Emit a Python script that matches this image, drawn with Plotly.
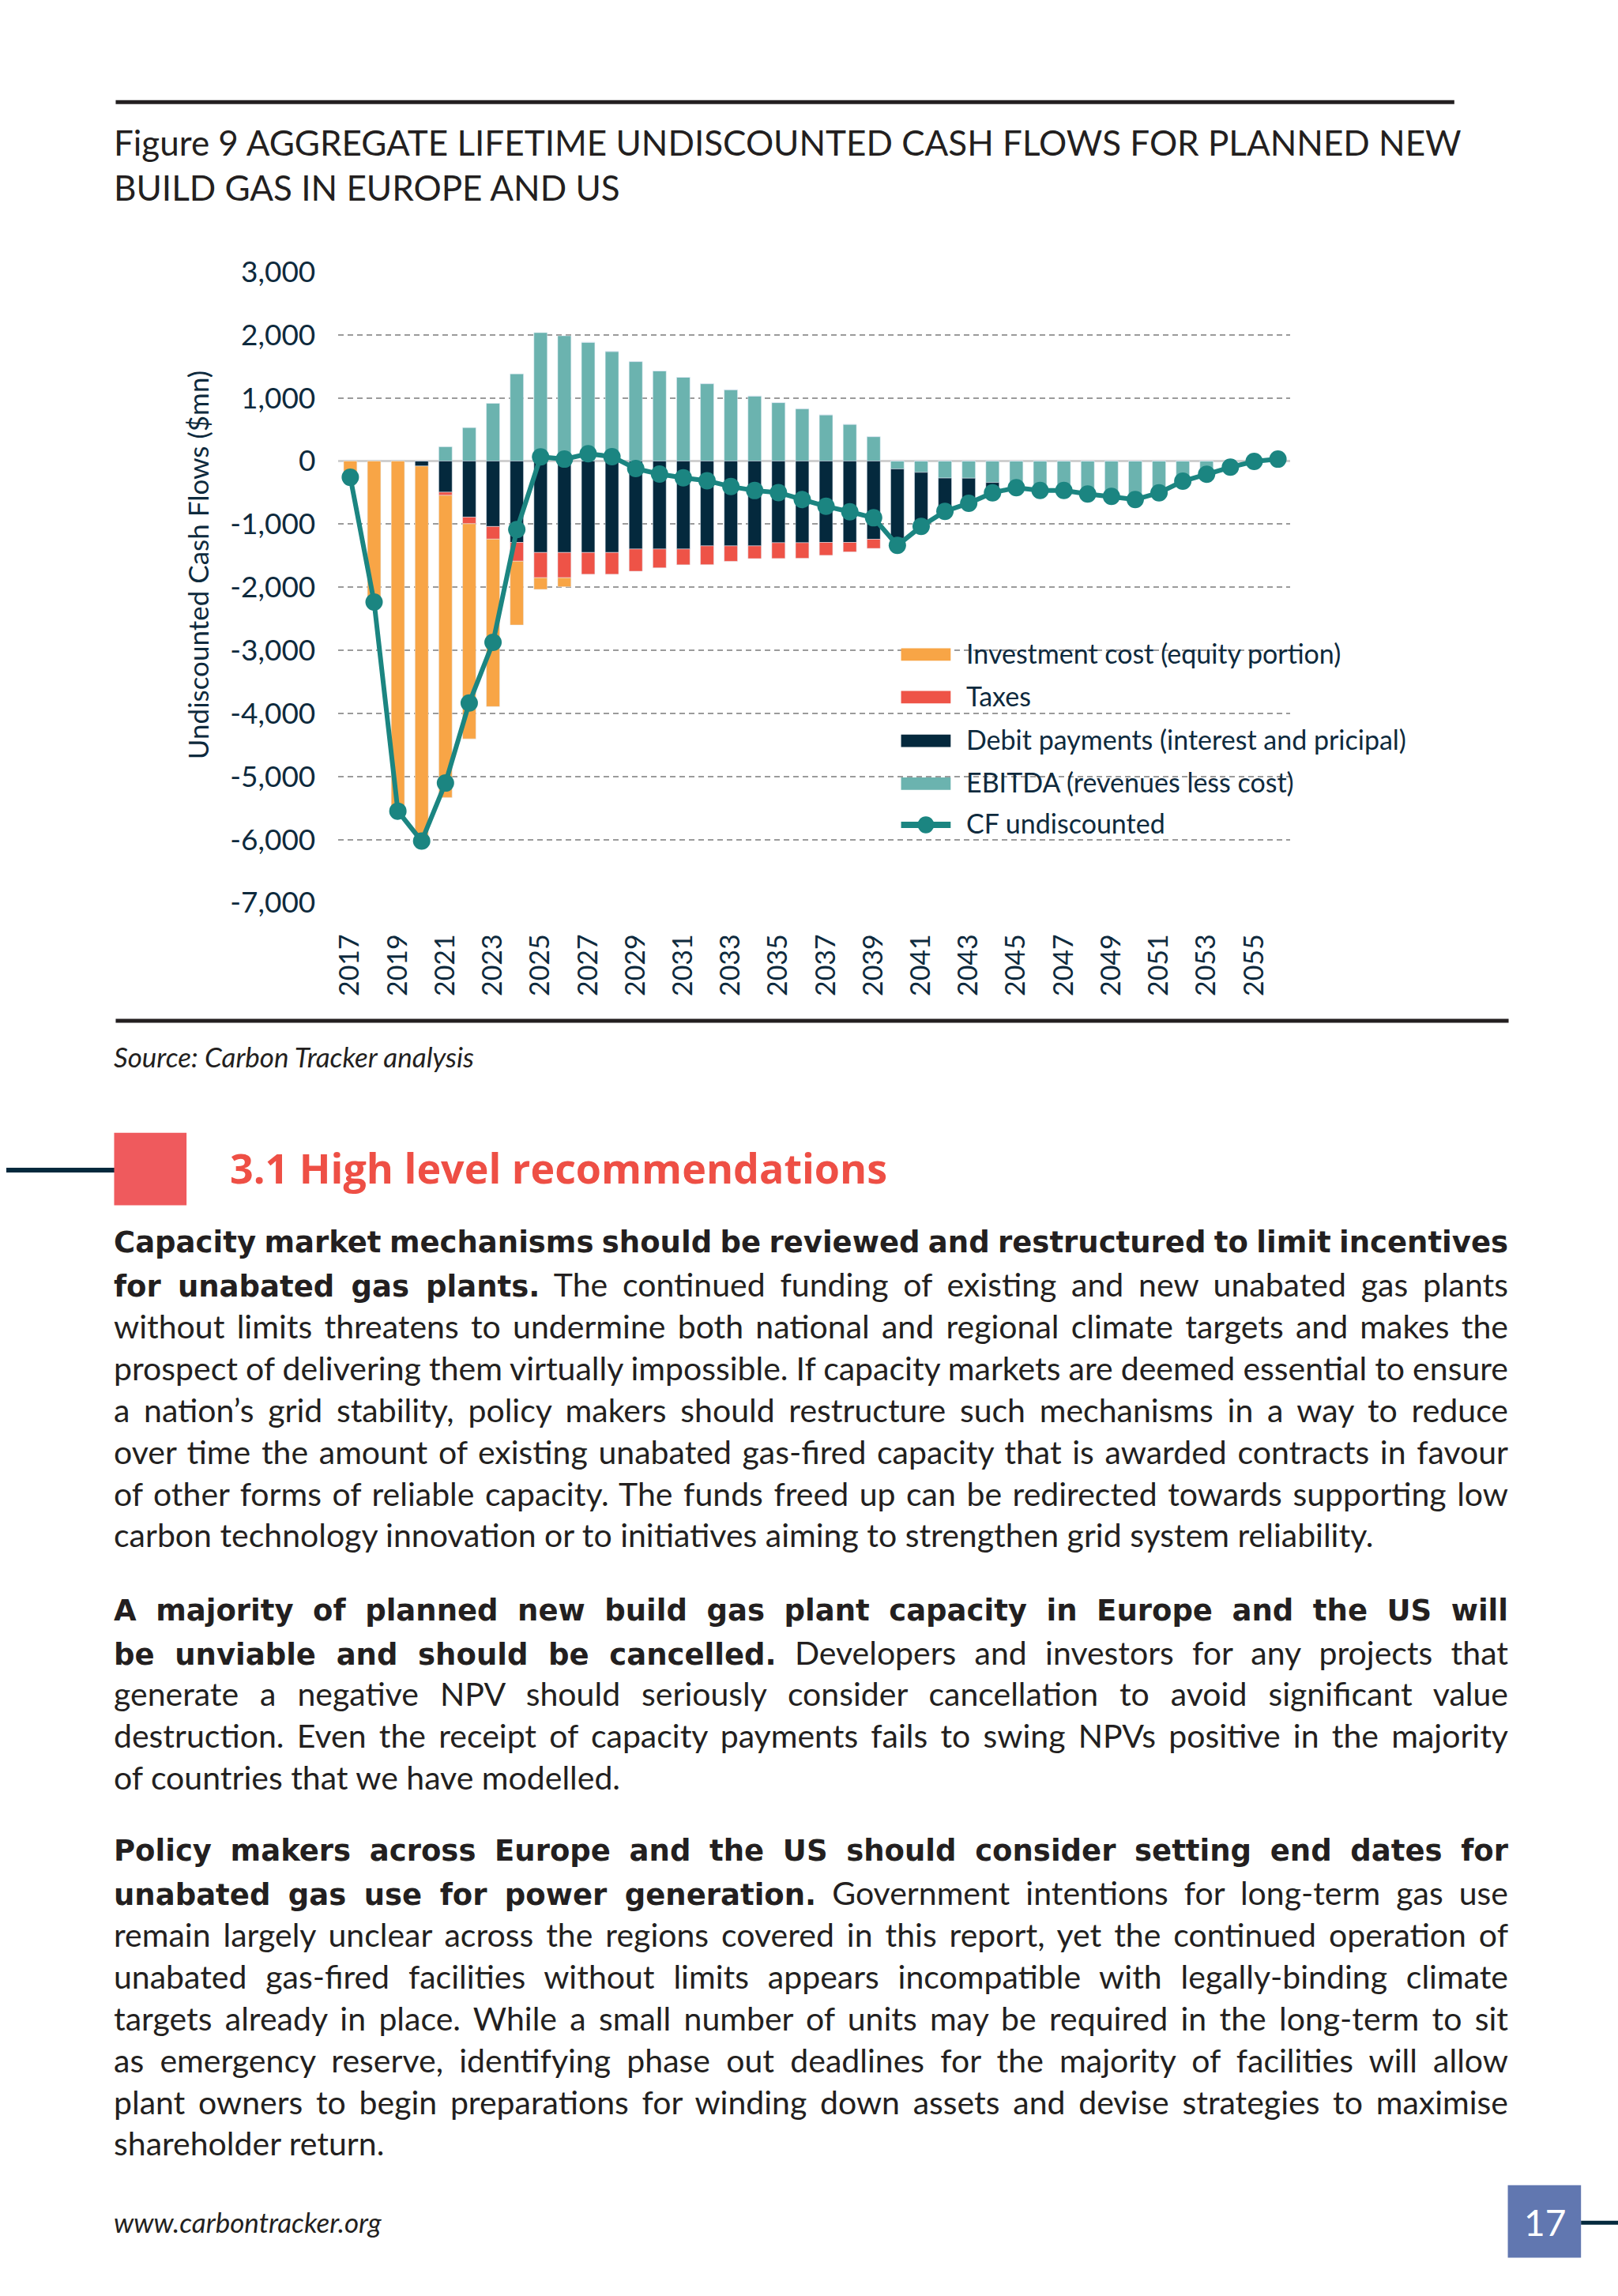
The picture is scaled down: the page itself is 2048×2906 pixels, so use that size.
import plotly.graph_objects as go

# ---------------- data ----------------
years = [2017, 2018, 2019, 2020, 2021, 2022, 2023, 2024, 2025, 2026,
         2027, 2028, 2029, 2030, 2031, 2032, 2033, 2034, 2035, 2036,
         2037, 2038, 2039, 2040, 2041, 2042, 2043, 2044, 2045, 2046,
         2047, 2048, 2049, 2050, 2051, 2052, 2053, 2054, 2055, 2056]

investment = [-190, -2170, -5500, -5900, -4790, -3410, -2655, -1012, -185, -144,
              0, 0, 0, 0, 0, 0, 0, 0, 0, 0,
              0, 0, 0, 0, 0, 0, 0, 0, 0, 0,
              0, 0, 0, 0, 0, 0, 0, 0, 0, 0]

taxes = [0, 0, 0, 0, -50, -105, -200, -297, -400, -400,
         -345, -345, -352, -298, -250, -298, -245, -202, -250, -247,
         -205, -150, -145, 0, 0, 0, 0, 0, 0, 0,
         0, 0, 0, 0, 0, 0, 0, 0, 0, 0]

debt = [0, 0, 0, -80, -494, -889, -1038, -1291, -1450, -1450,
        -1450, -1450, -1395, -1395, -1395, -1345, -1345, -1345, -1295, -1295,
        -1290, -1290, -1240, -1100, -820, -480, -360, -150, 0, 0,
        0, 0, 0, 0, 0, 0, 0, 0, 0, 0]

ebitda = [0, 0, 0, 0, 226, 529, 914, 1381, 2035, 1985,
          1883, 1737, 1577, 1428, 1328, 1226, 1130, 1030, 926, 830,
          732, 582, 387, -125, -180, -270, -272, -340, -400, -440,
          -440, -490, -530, -570, -470, -285, -170, -70, -10, 25]

cf = [-258, -2235, -5550, -6025, -5105, -3835, -2875, -1087, 65, 30,
      115, 70, -120, -206, -265, -312, -405, -468, -500, -610,
      -718, -805, -900, -1338, -1037, -797, -669, -503, -422, -466,
      -466, -523, -560, -611, -503, -320, -210, -98, -6, 30]

x_tick_vals = [2017, 2019, 2021, 2023, 2025, 2027, 2029, 2031, 2033, 2035,
               2037, 2039, 2041, 2043, 2045, 2047, 2049, 2051, 2053, 2055]
x_tick_text = ["2017", "2019", "2021", "2023", "2025", "2027", "2029", "2031", "2033", "2035",
               "2037", "2039", "2041", "2043", "2045", "2047", "2049", "2051", "2053", "2055"]
y_tick_vals = [3000, 2000, 1000, 0, -1000, -2000, -3000, -4000, -5000, -6000, -7000]
y_tick_text = ["3,000", "2,000", "1,000", "0", "-1,000", "-2,000", "-3,000",
               "-4,000", "-5,000", "-6,000", "-7,000"]

legend_names = ["Investment cost (equity portion)", "Taxes",
                "Debit payments (interest and pricipal)", "EBITDA (revenues less cost)",
                "CF undiscounted"]

title_lines = ["Figure 9 AGGREGATE LIFETIME UNDISCOUNTED CASH FLOWS FOR PLANNED NEW",
               "BUILD GAS IN EUROPE AND US"]

# each body line: (bold part, regular part)
body_bold = [
    "Capacity market mechanisms should be reviewed and restructured to limit incentives",
    "for unabated gas plants.", "", "", "", "", "", "",
    "A majority of planned new build gas plant capacity in Europe and the US will",
    "be unviable and should be cancelled.", "", "", "",
    "Policy makers across Europe and the US should consider setting end dates for",
    "unabated gas use for power generation.", "", "", "", "", "", "",
]
body_regular = [
    "",
    " The continued funding of existing and new unabated gas plants",
    "without limits threatens to undermine both national and regional climate targets and makes the",
    "prospect of delivering them virtually impossible. If capacity markets are deemed essential to ensure",
    "a nation\u2019s grid stability, policy makers should restructure such mechanisms in a way to reduce",
    "over time the amount of existing unabated gas-fired capacity that is awarded contracts in favour",
    "of other forms of reliable capacity. The funds freed up can be redirected towards supporting low",
    "carbon technology innovation or to initiatives aiming to strengthen grid system reliability.",
    "",
    " Developers and investors for any projects that",
    "generate a negative NPV should seriously consider cancellation to avoid significant value",
    "destruction. Even the receipt of capacity payments fails to swing NPVs positive in the majority",
    "of countries that we have modelled.",
    "",
    " Government intentions for long-term gas use",
    "remain largely unclear across the regions covered in this report, yet the continued operation of",
    "unabated gas-fired facilities without limits appears incompatible with legally-binding climate",
    "targets already in place. While a small number of units may be required in the long-term to sit",
    "as emergency reserve, identifying phase out deadlines for the majority of facilities will allow",
    "plant owners to begin preparations for winding down assets and devise strategies to maximise",
    "shareholder return.",
]
# last line of each paragraph is not justified
body_last_line = [False, False, False, False, False, False, False, True,
                  False, False, False, False, True,
                  False, False, False, False, False, False, False, True]
body_y = [1573, 1627, 1681, 1734, 1788, 1842, 1896, 1949,
          2046, 2100, 2153, 2207, 2261,
          2355, 2409, 2463, 2516, 2570, 2624, 2678, 2731]

# ---------------- styles ----------------
W, H = 2048, 2906
FONT = "Lato, 'Open Sans', sans-serif"
BOLD_STYLE = "font-family:DejaVu Sans;font-weight:bold;font-size:37px"
C_ORANGE = "#F8A546"
C_RED = "#EE5347"
C_NAVY = "#04293D"
C_TEAL = "#6BB3AF"
C_LINE = "#1B8581"
C_TEXT = "#0E2A3D"
C_DARK = "#231F20"
TEXT_RIGHT = 1909  # right edge of the justified text column (px)


def px(x):
    return x / W


def py(y):
    return 1 - y / H


fig = go.Figure()
# stacking order: first trace sits nearest to zero
fig.add_trace(go.Bar(x=years, y=ebitda, name=legend_names[3], marker_color=C_TEAL,
                     width=0.56, showlegend=False))
fig.add_trace(go.Bar(x=years, y=debt, name=legend_names[2], marker_color=C_NAVY,
                     width=0.56, showlegend=False))
fig.add_trace(go.Bar(x=years, y=taxes, name=legend_names[1], marker_color=C_RED,
                     width=0.56, showlegend=False))
fig.add_trace(go.Bar(x=years, y=investment, name=legend_names[0], marker_color=C_ORANGE,
                     width=0.56, showlegend=False))
fig.add_trace(go.Scatter(x=years, y=cf, name=legend_names[4], mode="lines+markers",
                         line=dict(color=C_LINE, width=6),
                         marker=dict(color=C_LINE, size=22), showlegend=False))

shapes = []
annotations = []

# white background behind legend (hides gridlines there)
shapes.append(dict(type="rect", xref="paper", yref="paper", layer="between",
                   x0=px(1108), x1=px(1645), y0=py(1070), y1=py(785),
                   fillcolor="white", line=dict(width=0)))

# legend (drawn manually to match the wide swatches)
leg_y = [817, 872, 928, 983, 1036]
leg_cols = [C_ORANGE, C_RED, C_NAVY, C_TEAL]
for i in range(4):
    shapes.append(dict(type="rect", xref="paper", yref="paper", layer="above",
                       x0=px(1137), x1=px(1200), y0=py(leg_y[i] + 8), y1=py(leg_y[i] - 8),
                       fillcolor=leg_cols[i], line=dict(width=0)))
shapes.append(dict(type="line", xref="paper", yref="paper", layer="above",
                   x0=px(1137), x1=px(1200), y0=py(leg_y[4]), y1=py(leg_y[4]),
                   line=dict(color=C_LINE, width=8)))
shapes.append(dict(type="circle", xref="paper", yref="paper", layer="above",
                   x0=px(1158), x1=px(1179), y0=py(leg_y[4] + 11), y1=py(leg_y[4] - 11),
                   fillcolor=C_LINE, line=dict(width=0)))
for i in range(5):
    annotations.append(dict(text=legend_names[i], xref="paper", yref="paper",
                            x=px(1218), y=py(leg_y[i] - 2), xanchor="left", yanchor="middle",
                            showarrow=False, font=dict(family=FONT, size=34, color=C_TEXT)))

# y axis title
annotations.append(dict(text="Undiscounted Cash Flows ($mn)", xref="paper", yref="paper",
                        x=px(243), y=py(702), xanchor="center", yanchor="middle", textangle=-90,
                        showarrow=False, font=dict(family=FONT, size=35, color=C_TEXT)))

# rules
shapes.append(dict(type="line", xref="paper", yref="paper", x0=px(139), x1=px(1840),
                   y0=py(107), y1=py(107), line=dict(color=C_DARK, width=5)))
shapes.append(dict(type="line", xref="paper", yref="paper", x0=px(139), x1=px(1909),
                   y0=py(1288), y1=py(1288), line=dict(color=C_DARK, width=5)))

# title
for t, yy in zip(title_lines, [158, 216]):
    annotations.append(dict(text=t, xref="paper", yref="paper", x=px(135), y=py(yy),
                            xanchor="left", yanchor="middle", showarrow=False,
                            font=dict(family=FONT, size=44, color=C_DARK)))

# source
annotations.append(dict(text="<i>Source: Carbon Tracker analysis</i>", xref="paper", yref="paper",
                        x=px(135), y=py(1334), xanchor="left", yanchor="middle", showarrow=False,
                        font=dict(family=FONT, size=35, color=C_DARK)))

# section heading
shapes.append(dict(type="line", xref="paper", yref="paper", x0=0, x1=px(138),
                   y0=py(1480), y1=py(1480), line=dict(color=C_NAVY, width=6)))
shapes.append(dict(type="rect", xref="paper", yref="paper", x0=px(137), x1=px(229),
                   y0=py(1525), y1=py(1432), fillcolor="#EF5A5D", line=dict(width=0)))
annotations.append(dict(text="<b>3.1 High level recommendations</b>", xref="paper", yref="paper",
                        x=px(282), y=py(1476), xanchor="left", yanchor="middle", showarrow=False,
                        font=dict(family="'Open Sans', Lato, sans-serif", size=52,
                                  color="#EE4F45")))

# body text
justify_idx = []
for b, r, last, yy in zip(body_bold, body_regular, body_last_line, body_y):
    txt = ""
    if b:
        txt += '<span style="' + BOLD_STYLE + '">' + b + "</span>"
    txt += r
    if not last:
        justify_idx.append(len(annotations))
    annotations.append(dict(text=txt, xref="paper", yref="paper", x=px(135), y=py(yy),
                            xanchor="left", yanchor="middle", align="left", showarrow=False,
                            font=dict(family=FONT, size=41, color=C_DARK)))

# footer
annotations.append(dict(text="<i>www.carbontracker.org</i>", xref="paper", yref="paper",
                        x=px(135), y=py(2832), xanchor="left", yanchor="middle", showarrow=False,
                        font=dict(family=FONT, size=35, color=C_DARK)))
shapes.append(dict(type="rect", xref="paper", yref="paper", x0=px(1908), x1=px(2001),
                   y0=py(2878), y1=py(2785), fillcolor="#6177B0", line=dict(width=0)))
shapes.append(dict(type="line", xref="paper", yref="paper", x0=px(2001), x1=1,
                   y0=py(2833), y1=py(2833), line=dict(color=C_NAVY, width=5)))
annotations.append(dict(text="17", xref="paper", yref="paper", x=px(1955), y=py(2832),
                        xanchor="center", yanchor="middle", showarrow=False,
                        font=dict(family=FONT, size=46, color="white")))

fig.update_layout(
    width=W, height=H, autosize=False,
    margin=dict(l=0, r=0, t=0, b=0, pad=0),
    paper_bgcolor="white", plot_bgcolor="white",
    barmode="relative", bargap=0.44,
    font=dict(family=FONT, color=C_TEXT),
    shapes=shapes, annotations=annotations,
    xaxis=dict(domain=[px(422), px(1631)], range=[2016.5, 2056.5],
               tickmode="array", tickvals=x_tick_vals, ticktext=x_tick_text,
               tickangle=-90, showgrid=False, zeroline=False, showline=False,
               ticks="", ticklabelstandoff=32,
               tickfont=dict(family=FONT, size=34, color=C_TEXT)),
    yaxis=dict(domain=[py(1136), py(325)], range=[-7000, 3000],
               tickmode="array", tickvals=y_tick_vals, ticktext=y_tick_text,
               showgrid=True, gridcolor="#9B9B9B", gridwidth=2, griddash="7px,5px",
               zeroline=True, zerolinecolor="#CFCFCF", zerolinewidth=3,
               showline=False, ticks="", ticklabelstandoff=28,
               tickfont=dict(family=FONT, size=37, color=C_TEXT)),
)

# justify the body paragraphs (word spacing) after the figure is drawn
justify_js = (
    "document.body.style.margin='0';"
    "try {"
    " var gd = document.getElementById('{plot_id}');"
    " var idx = " + str(justify_idx) + ";"
    " idx.forEach(function(i) {"
    "  var el = gd.querySelector('g.annotation[data-index=\"' + i + '\"] text.annotation-text');"
    "  if (!el) return;"
    "  var n = (el.textContent.match(/ /g) || []).length;"
    "  if (n < 1) return;"
    "  var w = el.getComputedTextLength();"
    "  var left = el.getBoundingClientRect().left;"
    "  el.style.wordSpacing = ((" + str(TEXT_RIGHT) + " - left - w) / n) + 'px';"
    " });"
    "} catch (e) {}"
)

fig.write_html("out.html", config={"displayModeBar": False}, post_script=justify_js)
